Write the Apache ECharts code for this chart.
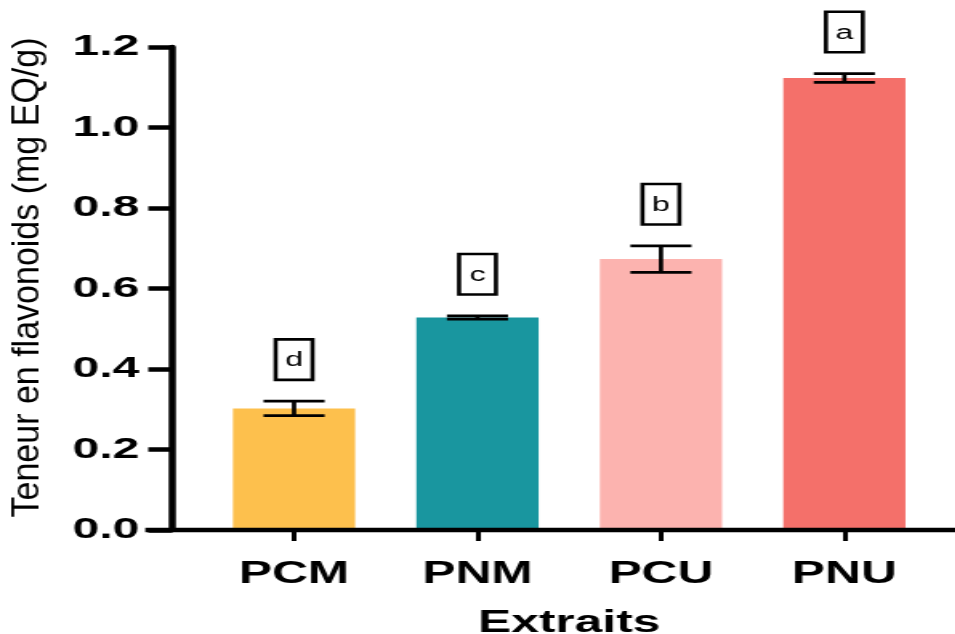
<!DOCTYPE html>
<html>
<head>
<meta charset="utf-8">
<script src="https://cdn.jsdelivr.net/npm/echarts@6/dist/echarts.min.js"></script>
<style>
  html, body { margin: 0; padding: 0; background: #fff; overflow: hidden; width: 955px; height: 634px; }
  #chart { width: 597px; height: 634px; transform: scaleX(1.6); transform-origin: 0 0; }
</style>
</head>
<body>
<div id="chart"></div>
<script>
// ---- data ----
const categories = ['PCM', 'PNM', 'PCU', 'PNU'];
const means = [0.302, 0.528, 0.673, 1.123];
const sds = [0.018, 0.004, 0.033, 0.011];
const letters = ['d', 'c', 'b', 'a'];
const colors = ['#FDC04D', '#19969F', '#FCB3AF', '#F4706A'];
const yTicks = { min: 0, max: 1.2, interval: 0.2 };
const xTitle = 'Extraits';
const yTitle = 'Teneur en flavonoids (mg EQ/g)';

// ---- layout (chart drawn in a narrower box, stretched horizontally like the reference) ----
const S = 1.6;
const W = 955 / S;
const FONT = 'Liberation Sans, Arial, Helvetica, sans-serif';

const chart = echarts.init(document.getElementById('chart'), null, { width: W, height: 634, renderer: 'canvas' });

const option = {
  backgroundColor: '#ffffff',
  animation: false,
  grid: { left: 202 / S, right: W - 934.5 / S, top: 47, bottom: 104, containLabel: false, outerBoundsMode: 'none' },
  xAxis: {
    type: 'category',
    data: categories,
    name: xTitle,
    nameLocation: 'middle',
    nameGap: 78,
    nameTextStyle: { fontFamily: FONT, fontWeight: 'bold', fontSize: 31, color: '#000' },
    axisLine: { show: false },
    axisTick: { show: true, alignWithLabel: true, length: 11, lineStyle: { color: '#000', width: 3 } },
    axisLabel: { fontFamily: FONT, fontWeight: 'bold', fontSize: 31, color: '#000', margin: 29 },
    splitLine: { show: false }
  },
  yAxis: {
    type: 'value',
    min: yTicks.min, max: yTicks.max, interval: yTicks.interval,
    offset: (202 - 172) / S,
    axisLine: { show: true, lineStyle: { color: '#000', width: 4.5 } },
    axisTick: { show: true, inside: false, length: 15, lineStyle: { color: '#000', width: 4.5 } },
    axisLabel: { fontFamily: FONT, fontWeight: 'bold', fontSize: 30, color: '#000', margin: 20.5,
                 formatter: v => v.toFixed(1) },
    splitLine: { show: false }
  },
  series: [
    {
      type: 'bar',
      barWidth: '66.6%',
      data: means.map((v, i) => ({ value: v, itemStyle: { color: colors[i] } })),
      z: 2
    },
    {
      type: 'custom',
      z: 3,
      data: means.map((m, i) => [i, m, sds[i]]),
      renderItem: function (params, api) {
        const x = api.value(0), m = api.value(1), sd = api.value(2);
        const top = api.coord([x, m + sd]);
        const bot = api.coord([x, m - sd]);
        const cx = top[0];
        const capHalf = 61 / S / 2;
        const lw = 2.7;
        const boxW = 23, boxH = 40.5;
        const boxBottom = top[1] - 20 - 1.3;
        return {
          type: 'group',
          children: [
            { type: 'line', shape: { x1: cx, y1: top[1], x2: cx, y2: bot[1] }, style: { stroke: '#000', lineWidth: lw } },
            { type: 'line', shape: { x1: cx - capHalf, y1: top[1], x2: cx + capHalf, y2: top[1] }, style: { stroke: '#000', lineWidth: lw } },
            { type: 'line', shape: { x1: cx - capHalf, y1: bot[1], x2: cx + capHalf, y2: bot[1] }, style: { stroke: '#000', lineWidth: lw } },
            { type: 'rect', shape: { x: cx - boxW / 2, y: boxBottom - boxH, width: boxW, height: boxH },
              style: { fill: '#fff', stroke: '#000', lineWidth: 2.6 } },
            { type: 'text', style: { text: letters[params.dataIndex], x: cx, y: boxBottom - boxH / 2 + 1,
              align: 'center', verticalAlign: 'middle', font: '20px ' + FONT, fill: '#000' } }
          ]
        };
      }
    }
  ]
};
chart.setOption(option);

// full-width x axis line and rotated y title (compensating the horizontal stretch)
const y0 = chart.convertToPixel({ yAxisIndex: 0 }, 0);
const yMid = (chart.convertToPixel({ yAxisIndex: 0 }, yTicks.max) + y0) / 2;
chart.setOption({
  graphic: [
    { type: 'line', z: 10, shape: { x1: 145 / S, y1: y0, x2: W, y2: y0 }, style: { stroke: '#000', lineWidth: 4.5 } },
    { type: 'text', z: 10, x: 28 / S, y: yMid - 11, rotation: Math.PI / 2, scaleY: 1.15 / S,
      style: { text: yTitle, font: '34px ' + FONT, fill: '#000', align: 'center', verticalAlign: 'middle' } }
  ]
});
</script>
</body>
</html>
